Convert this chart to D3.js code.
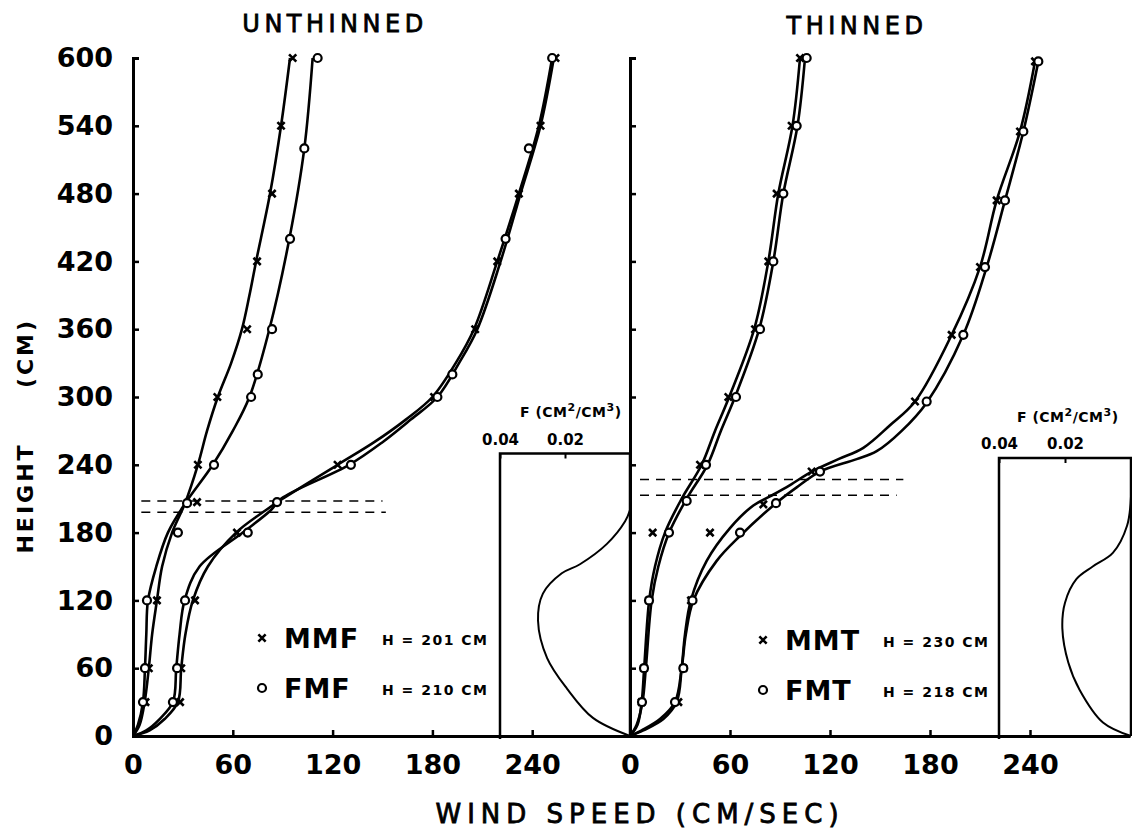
<!DOCTYPE html>
<html>
<head>
<meta charset="utf-8">
<script src="https://cdn.jsdelivr.net/npm/d3@7"></script>
<style>
  body { margin: 0; background: #fff; }
  svg text { font-family: "DejaVu Sans", sans-serif; fill: #000; }
</style>
</head>
<body>
<div id="chart"></div>
<script>
// ticks
const heightTicks = [0, 60, 120, 180, 240, 300, 360, 420, 480, 540, 600];
const speedTicks = [0, 60, 120, 180, 240];
const foliageTicks = [0.04, 0.02];

// ---------- UNTHINNED : fitted profiles, [height cm, wind speed cm/sec] ----------
const mmfLowCurve = [[0,0],[10,4],[30,7],[60,9.5],[90,11.5],[120,14.4],[150,17.5],[180,23.5],[205,31],[240,39],[270,44.5],[300,51],[330,59],[360,65.5],[390,70],[420,74],[480,82.4],[540,89],[600,94.4]];
const fmfLowCurve = [[0,0],[10,3],[30,6],[60,7.2],[90,8],[120,9],[150,14],[180,21],[205,31],[240,48],[270,60],[300,70],[360,82],[440,94],[520,103],[600,108]];
const mmfHighCurve = [[0,0],[5,10],[15,19],[30,27],[60,29],[90,31.5],[120,36],[150,45],[180,62],[200,80],[210,90],[240,123],[260,145],[280,164],[300,180],[330,194],[360,205],[420,219],[480,232],[540,244],[600,252]];
const fmfHighCurve = [[0,0],[5,8],[15,16],[30,24],[60,26],[90,28],[120,31],[150,40],[180,66],[200,83],[210,89],[240,130],[260,150],[280,167],[300,183],[330,196],[360,207],[420,221],[480,233],[540,245],[600,253]];

// measured points
const mmfLowPts = [[30,7.5],[60,9.5],[120,14.4],[207,38.5],[240,39],[300,50.7],[360,68.6],[420,74.6],[480,83.6],[540,89],[600,96]];
const fmfLowPts = [[30,6],[60,7.2],[120,8.4],[180,27],[206,32.5],[240,48.7],[300,71],[320,75],[360,83.6],[440,94.4],[520,103],[600,111]];
const mmfHighPts = [[30,28.3],[60,29],[120,37.3],[180,62.5],[240,123],[300,181],[360,205.7],[420,219],[480,232],[540,245],[600,254]];
const fmfHighPts = [[30,24],[60,26.5],[120,31.3],[180,69],[207,86.6],[240,131],[300,183],[320,192],[440,224],[520,238],[600,252]];

const unthinnedCanopy = [208, 198];
// foliage density profile [height cm, F cm2/cm3]
const unthinnedFoliage = [[0,0],[16,0.0114],[42,0.0194],[69,0.0255],[102,0.0283],[126,0.0268],[144,0.021],[152,0.0154],[170,0.0071],[190,0.0015],[200,0]];
const unthinnedLegend = [["MMF", "H = 201 CM", "x"], ["FMF", "H = 210 CM", "o"]];

// ---------- THINNED ----------
const mmtLowCurve = [[0,0],[10,4.5],[30,7],[60,8.5],[120,11.5],[150,15],[180,21],[210,31],[240,43],[270,51],[300,59.5],[360,74.5],[420,83],[480,89],[540,97.5],[600,102]];
const fmtLowCurve = [[0,0],[10,4],[30,7.5],[60,9.5],[120,13],[150,17],[180,23.5],[210,34],[240,46.5],[270,54.5],[300,63],[360,77.5],[420,86],[480,92],[540,100.5],[600,105]];
const mmtHighCurve = [[0,0],[5,8],[15,20],[30,28],[60,31],[90,33],[120,36.5],[155,46],[184,60],[204,74],[212,84],[222,96],[234,109],[245,125],[255,140],[275,156],[296,171],[355,193],[415,210],[474,220],[535,234],[597,243]];
const fmtHighCurve = [[0,0],[5,7],[15,18],[30,27],[60,31],[90,33.5],[120,38],[155,52],[177,66],[206,87.6],[220,100],[234,114],[245,136],[252,148],[270,163],[295,178],[355,200],[415,214],[474,225],[535,236],[597,245]];

const mmtLowPts = [[30,7],[60,8.4],[120,11.4],[180,13.6],[240,42],[300,59],[360,75],[420,83],[480,88],[540,97],[600,102]];
const fmtLowPts = [[30,7.2],[60,8.4],[120,11.4],[180,23.4],[208,34],[240,45.6],[300,63.6],[360,78],[420,86],[480,92],[540,100],[600,106]];
const mmtHighPts = [[30,29],[60,32],[120,36.6],[180,48],[205,80],[234,109],[296,171],[355,193],[415,210],[474,220],[535,234],[597,243]];
const fmtHighPts = [[30,27],[60,32],[120,37.5],[180,66],[206,87.6],[234,114],[296,178],[355,200],[415,213],[474,225],[535,236],[597,245]];

const thinnedCanopy = [227, 213];
const thinnedFoliage = [[0,0],[12,0.0085],[41,0.0156],[65,0.019],[95,0.0208],[118,0.02],[139,0.0165],[150,0.0116],[162,0.0055],[186,0.0012],[212,0]];
const thinnedLegend = [["MMT", "H = 230 CM", "x"], ["FMT", "H = 218 CM", "o"]];


const width = 1132, height = 835;

const svg = d3.select("#chart").append("svg")
    .attr("width", width)
    .attr("height", height);

const y = d3.scaleLinear().domain([0, 600]).range([736, 58]);

const panels = [
    {
        title: "UNTHINNED", titleX: 335, titleY: 32,
        range: [133, 632], yLabels: true,
        curves: [mmfLowCurve, fmfLowCurve, mmfHighCurve, fmfHighCurve],
        points: [[mmfLowPts, "x"], [fmfLowPts, "o"], [mmfHighPts, "x"], [fmfHighPts, "o"]],
        canopy: unthinnedCanopy, canopyFrom: 5, canopyTo: [150, 152],
        foliage: unthinnedFoliage, inset: [500, 630], insetTop: 250, fLabelX: 520, fLabelY: 417,
        legend: unthinnedLegend, legendX: 262, legendY: [638, 688]
    },
    {
        title: "THINNED", titleX: 857, titleY: 34,
        range: [630, 1130], yLabels: false,
        curves: [mmtLowCurve, fmtLowCurve, mmtHighCurve, fmtHighCurve],
        points: [[mmtLowPts, "x"], [fmtLowPts, "o"], [mmtHighPts, "x"], [fmtHighPts, "o"]],
        canopy: thinnedCanopy, canopyFrom: 6, canopyTo: [164, 160],
        foliage: thinnedFoliage, inset: [999, 1131], insetTop: 246, fLabelX: 1017, fLabelY: 422,
        legend: thinnedLegend, legendX: 763, legendY: [640, 690]
    }
];

function marker(g, type, cx, cy) {
    if (type === "x") {
        g.append("path")
            .attr("d", d3.symbol().type(d3.symbolX).size(36)())
            .attr("transform", `translate(${cx},${cy})`)
            .attr("fill", "none")
            .attr("stroke", "#000")
            .attr("stroke-width", 2.6);
    } else {
        g.append("circle")
            .attr("cx", cx).attr("cy", cy).attr("r", 4)
            .attr("fill", "#fff")
            .attr("stroke", "#000")
            .attr("stroke-width", 2.2);
    }
}

panels.forEach(p => {
    const x = d3.scaleLinear().domain([0, 300]).range(p.range);
    const g = svg.append("g");

    // y axis (ticks point into the plot)
    const yAxis = d3.axisLeft(y)
        .tickValues(heightTicks)
        .tickSize(-6)
        .tickPadding(20)
        .tickFormat(p.yLabels ? d3.format("d") : "");
    const ya = g.append("g")
        .attr("transform", `translate(${p.range[0]},0)`)
        .call(yAxis);

    // x axis
    const xAxis = d3.axisBottom(x)
        .tickValues(speedTicks)
        .tickSizeInner(-6)
        .tickSizeOuter(0)
        .tickPadding(19);
    const xa = g.append("g")
        .attr("transform", `translate(0,${y(0)})`)
        .call(xAxis);

    [ya, xa].forEach(a => {
        a.attr("font-family", null).attr("font-size", null);
        a.select(".domain").attr("stroke-width", 3);
        a.selectAll(".tick line").attr("stroke-width", 2.5);
        a.selectAll("text")
            .style("font-size", "27px")
            .style("font-weight", "bold");
    });

    // title
    g.append("text")
        .attr("x", p.titleX).attr("y", p.titleY)
        .attr("text-anchor", "middle")
        .style("font-size", "24px")
        .style("letter-spacing", "4.5px")
        .attr("stroke", "#000")
        .attr("stroke-width", 0.8)
        .text(p.title);

    // canopy height (dashed)
    p.canopy.forEach((h, i) => {
        g.append("line")
            .attr("x1", x(p.canopyFrom)).attr("x2", x(p.canopyTo[i]))
            .attr("y1", y(h)).attr("y2", y(h))
            .attr("stroke", "#000")
            .attr("stroke-width", 1.6)
            .attr("stroke-dasharray", "9,7");
    });

    // foliage inset
    const f = d3.scaleLinear().domain([0.04, 0]).range(p.inset);
    const inset = g.append("g");
    inset.append("path")
        .attr("d", `M${p.inset[0]},${y(0) + 3}V${y(p.insetTop)}H${p.inset[1]}V${y(0)}`)
        .attr("fill", "none")
        .attr("stroke", "#000")
        .attr("stroke-width", 2.5);
    const fa = inset.append("g")
        .attr("transform", `translate(0,${y(p.insetTop)})`)
        .call(d3.axisTop(f).tickValues(foliageTicks).tickSize(-5).tickPadding(9).tickFormat(d3.format(".2f")));
    fa.attr("font-family", null).attr("font-size", null);
    fa.select(".domain").remove();
    fa.selectAll(".tick line").attr("stroke-width", 2);
    fa.selectAll("text").style("font-size", "15px").style("font-weight", "bold");

    const fl = inset.append("text")
        .attr("x", p.fLabelX).attr("y", p.fLabelY)
        .style("font-size", "14px")
        .style("font-weight", "bold")
        .style("letter-spacing", "0.5px");
    fl.append("tspan").text("F (CM");
    fl.append("tspan").attr("baseline-shift", "super").style("font-size", "11px").text("2");
    fl.append("tspan").text("/CM");
    fl.append("tspan").attr("baseline-shift", "super").style("font-size", "11px").text("3");
    fl.append("tspan").text(")");

    inset.append("path")
        .datum(p.foliage)
        .attr("d", d3.line().x(d => f(d[1])).y(d => y(d[0])).curve(d3.curveCatmullRom.alpha(0.5)))
        .attr("fill", "none")
        .attr("stroke", "#000")
        .attr("stroke-width", 2);

    // wind profiles
    const line = d3.line()
        .x(d => x(d[1]))
        .y(d => y(d[0]))
        .curve(d3.curveCatmullRom.alpha(0.5));
    p.curves.forEach(c => {
        g.append("path")
            .datum(c)
            .attr("d", line)
            .attr("fill", "none")
            .attr("stroke", "#000")
            .attr("stroke-width", 2.6);
    });

    // measured points
    p.points.forEach(([data, type]) => {
        data.forEach(d => marker(g, type, x(d[1]), y(d[0])));
    });

    // legend
    p.legend.forEach(([name, h, type], i) => {
        const ly = p.legendY[i];
        marker(g, type, p.legendX, ly);
        g.append("text")
            .attr("x", p.legendX + 22).attr("y", ly + 10)
            .style("font-size", "27px")
            .style("font-weight", "bold")
            .style("letter-spacing", "1px")
            .text(name);
        g.append("text")
            .attr("x", p.legendX + 120).attr("y", ly + 7)
            .style("font-size", "14px")
            .style("font-weight", "bold")
            .style("letter-spacing", "1.5px")
            .text(h);
    });
});

// axis titles
svg.append("text")
    .attr("x", 640).attr("y", 823)
    .attr("text-anchor", "middle")
    .style("font-size", "26px")
    .style("letter-spacing", "6px")
    .attr("stroke", "#000")
    .attr("stroke-width", 0.8)
    .text("WIND SPEED (CM/SEC)");

svg.append("text")
    .attr("transform", "translate(33,498) rotate(-90)")
    .attr("text-anchor", "middle")
    .style("font-size", "22px")
    .style("font-weight", "bold")
    .style("letter-spacing", "3px")
    .text("HEIGHT");

svg.append("text")
    .attr("transform", "translate(33,353) rotate(-90)")
    .attr("text-anchor", "middle")
    .style("font-size", "22px")
    .style("font-weight", "bold")
    .style("letter-spacing", "3px")
    .text("(CM)");
</script>
</body>
</html>
